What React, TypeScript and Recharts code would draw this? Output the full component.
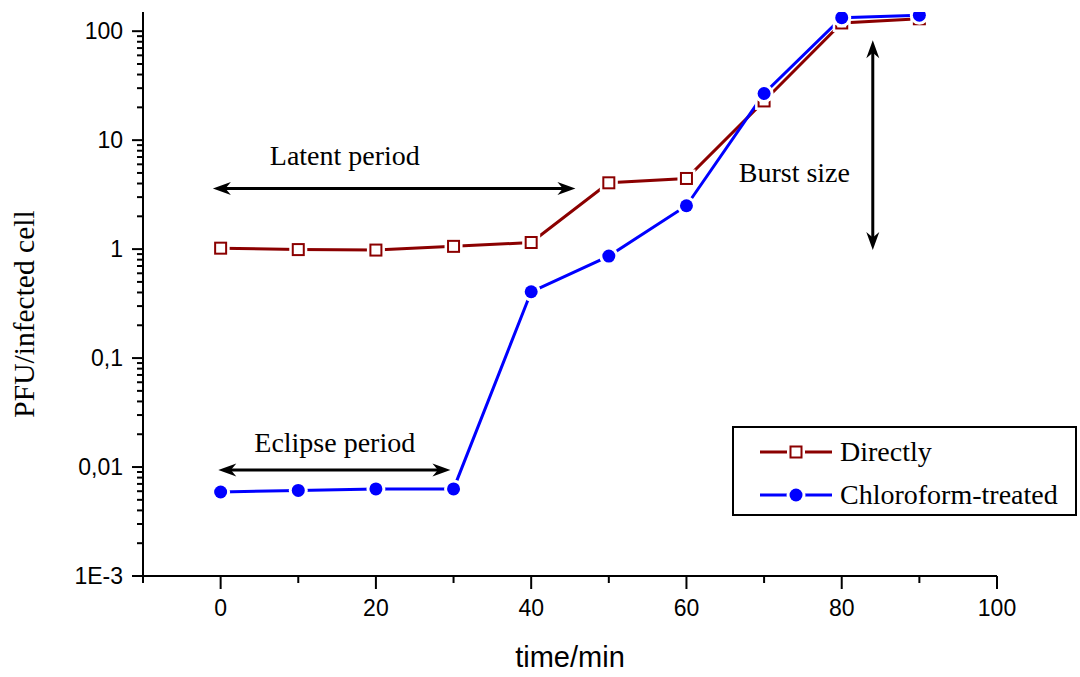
import React from 'react'
import { LineChart, Line, XAxis, YAxis, ReferenceLine, ReferenceDot, Legend } from 'recharts'

// time points (min)
const times = [0, 10, 20, 30, 40, 50, 60, 70, 80, 90]
// PFU per infected cell
const directly = [1.02, 0.99, 0.98, 1.06, 1.15, 4.06, 4.45, 22.9, 119, 130]
const chloroform = [0.0059, 0.0061, 0.0063, 0.0063, 0.406, 0.863, 2.5, 26.8, 133, 140]

const seriesNames = ['Directly', 'Chloroform-treated']

const yMajor = [0.001, 0.01, 0.1, 1, 10, 100]
const yMajorLabels = ['1E-3', '0,01', '0,1', '1', '10', '100']
const yMinorSteps = [2, 3, 4, 5, 6, 7, 8, 9]
const xMajor = [0, 20, 40, 60, 80, 100]
const xMinor = [-10, 10, 30, 50, 70, 90]

// annotations (data units)
const latentArrow = [{ x: -1, y: 3.6 }, { x: 45.7, y: 3.6 }]
const eclipseArrow = [{ x: -0.3, y: 0.0094 }, { x: 29.6, y: 0.0094 }]
const burstArrow = [{ x: 84, y: 82.7 }, { x: 84, y: 0.98 }]
const notes = [
  { x: 16, y: 5.9, text: 'Latent period' },
  { x: 14.7, y: 0.0137, text: 'Eclipse period' },
  { x: 73.9, y: 4.12, text: 'Burst size' },
]

const RED = '#8B0000'
const BLUE = '#0000FF'
const SERIF = '"Liberation Serif", "Times New Roman", serif'
const SANS = '"Liberation Sans", Arial, sans-serif'

const data = times.map((t, i) => ({ t, directly: directly[i], chloroform: chloroform[i] }))

const yMinor = yMajor.flatMap((m) => yMinorSteps.map((s) => +(m * s).toPrecision(3))).filter((v) => v < 150)
const yTicks = [...yMajor, ...yMinor]
const xTicks = [...xMajor, ...xMinor].sort((a, b) => a - b)

const YTick = (props: any) => {
  const { x, y, payload } = props
  const idx = yMajor.indexOf(payload.value)
  const major = idx >= 0
  return (
    <g>
      <line x1={x} x2={x - (major ? 11 : 6)} y1={y} y2={y} stroke="#000" strokeWidth={2} />
      {major && (
        <text x={x - 20} y={y} dy={8} textAnchor="end" fontFamily={SANS} fontSize={23} fill="#000">
          {yMajorLabels[idx]}
        </text>
      )}
    </g>
  )
}

const XTick = (props: any) => {
  const { x, y, payload } = props
  const major = xMajor.includes(payload.value)
  return (
    <g>
      <line x1={x} x2={x} y1={y} y2={y + (major ? 13 : 7)} stroke="#000" strokeWidth={2} />
      {major && (
        <text x={x} y={y + 40} textAnchor="middle" fontFamily={SANS} fontSize={23} fill="#000">
          {payload.value}
        </text>
      )}
    </g>
  )
}

const squareDot = (props: any) => {
  const { cx, cy, index } = props
  return (
    <g key={'sq' + index}>
      <rect x={cx - 9} y={cy - 9} width={18} height={18} fill="#fff" />
      <rect x={cx - 5.5} y={cy - 5.5} width={11} height={11} fill="#fff" stroke={RED} strokeWidth={2} />
    </g>
  )
}

const circleDot = (props: any) => {
  const { cx, cy, index } = props
  return (
    <g key={'ci' + index}>
      <circle cx={cx} cy={cy} r={9.5} fill="#fff" />
      <circle cx={cx} cy={cy} r={6.5} fill={BLUE} />
    </g>
  )
}

const Arrow = (props: any) => {
  const { x1, y1, x2, y2 } = props
  const len = Math.hypot(x2 - x1, y2 - y1)
  const ux = (x2 - x1) / len
  const uy = (y2 - y1) / len
  const px = -uy
  const py = ux
  const h = 18
  const w = 6.5
  const head = (tx: number, ty: number, dx: number, dy: number) =>
    `${tx},${ty} ${tx - dx * h + px * w},${ty - dy * h + py * w} ${tx - dx * h * 0.7},${ty - dy * h * 0.7} ${tx - dx * h - px * w},${ty - dy * h - py * w}`
  return (
    <g>
      <line x1={x1 + ux * 10} y1={y1 + uy * 10} x2={x2 - ux * 10} y2={y2 - uy * 10} stroke="#000" strokeWidth={3} />
      <polygon points={head(x2, y2, ux, uy)} fill="#000" />
      <polygon points={head(x1, y1, -ux, -uy)} fill="#000" />
    </g>
  )
}

const LegendBox = () => (
  <div
    style={{
      width: 345,
      height: 90,
      border: '2px solid #000',
      boxSizing: 'border-box',
      position: 'relative',
      fontFamily: SERIF,
      fontSize: 28,
      color: '#000',
    }}
  >
    {seriesNames.map((name, i) => (
      <div key={name} style={{ position: 'absolute', left: 24, top: i === 0 ? 7 : 50, height: 34, display: 'flex', alignItems: 'center' }}>
        <svg width={80} height={20} style={{ display: 'block' }}>
          <line x1={2} x2={74} y1={10} y2={10} stroke={i === 0 ? RED : BLUE} strokeWidth={3} />
          {i === 0 ? (
            <g>
              <rect x={29} y={1} width={18} height={18} fill="#fff" />
              <rect x={32.5} y={4.5} width={11} height={11} fill="#fff" stroke={RED} strokeWidth={2} />
            </g>
          ) : (
            <g>
              <circle cx={38} cy={10} r={9.5} fill="#fff" />
              <circle cx={38} cy={10} r={6.5} fill={BLUE} />
            </g>
          )}
        </svg>
        <span style={{ marginLeft: 2, lineHeight: '34px' }}>{name}</span>
      </div>
    ))}
  </div>
)

export default function App() {
  return (
    <div style={{ position: 'absolute', left: 0, top: 0, width: 1080, height: 677, background: '#fff' }}>
      <LineChart width={1080} height={677} data={data} margin={{ top: 12, right: 83, bottom: 41, left: 83 }}>
        <XAxis
          dataKey="t"
          type="number"
          domain={[-10, 100]}
          ticks={xTicks}
          interval={0}
          height={60}
          tickSize={0}
          tickMargin={0}
          tickLine={false}
          tick={<XTick />}
          axisLine={{ stroke: '#000', strokeWidth: 2 }}
          allowDataOverflow
        />
        <YAxis
          type="number"
          scale="log"
          domain={[0.001, 150]}
          ticks={yTicks}
          interval={0}
          width={60}
          tickSize={0}
          tickMargin={0}
          tickLine={false}
          tick={<YTick />}
          axisLine={{ stroke: '#000', strokeWidth: 2 }}
          allowDataOverflow
        />
        <ReferenceLine segment={latentArrow} shape={Arrow} />
        <ReferenceLine segment={eclipseArrow} shape={Arrow} />
        <ReferenceLine segment={burstArrow} shape={Arrow} />
        {notes.map((n) => (
          <ReferenceDot
            key={n.text}
            x={n.x}
            y={n.y}
            r={0}
            shape={(p: any) => (
              <text x={p.cx} y={p.cy} textAnchor="middle" fontFamily={SERIF} fontSize={28} fill="#000">
                {n.text}
              </text>
            )}
          />
        ))}
        <Line
          dataKey="directly"
          name={seriesNames[0]}
          stroke={RED}
          strokeWidth={3}
          dot={squareDot}
          activeDot={false}
          isAnimationActive={false}
        />
        <Line
          dataKey="chloroform"
          name={seriesNames[1]}
          stroke={BLUE}
          strokeWidth={3}
          dot={circleDot}
          activeDot={false}
          isAnimationActive={false}
        />
        <Legend
          layout="vertical"
          align="center"
          verticalAlign="middle"
          content={<LegendBox />}
          wrapperStyle={{ left: 732, top: 426, width: 345, height: 90 }}
        />
        <text x={570} y={667} textAnchor="middle" fontFamily={SANS} fontSize={29} fill="#000">
          time/min
        </text>
        <text
          x={34}
          y={314}
          transform="rotate(-90 34 314)"
          textAnchor="middle"
          fontFamily={SERIF}
          fontSize={29.5}
          fill="#000"
        >
          PFU/infected cell
        </text>
      </LineChart>
    </div>
  )
}
